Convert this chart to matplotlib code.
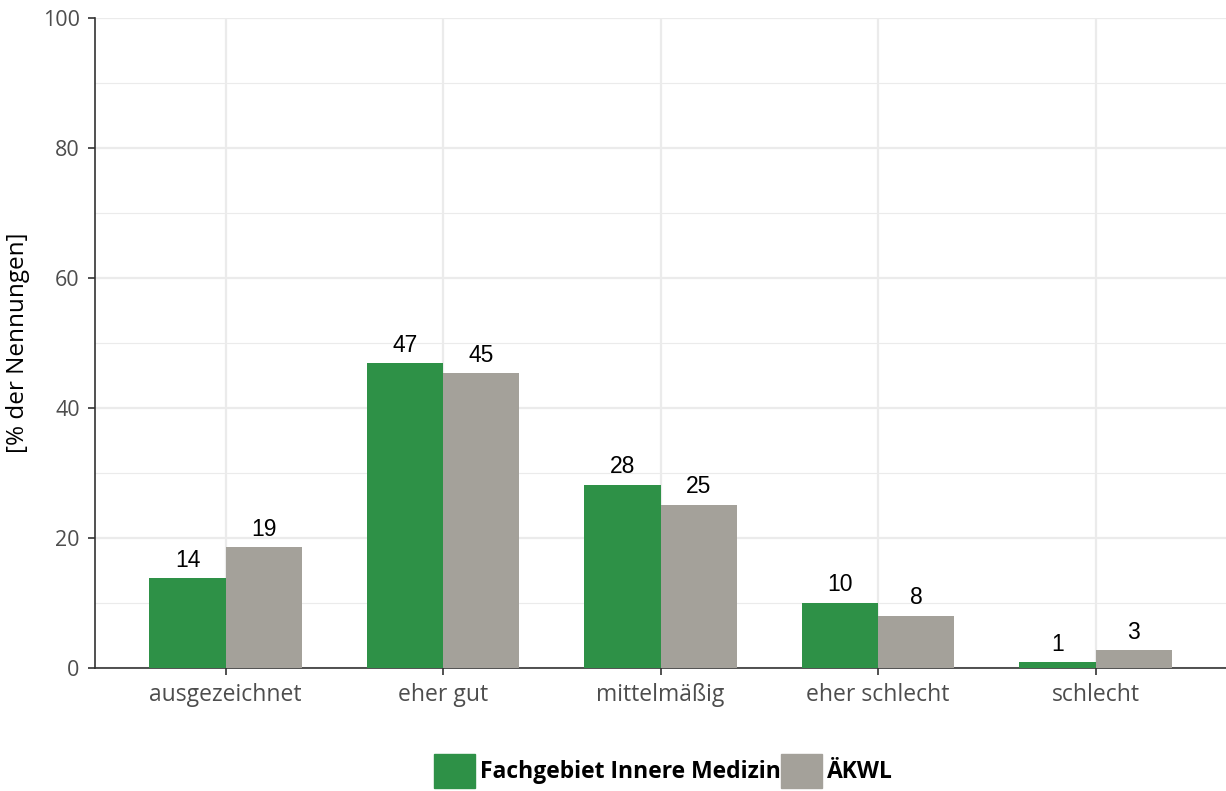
import numpy as np
import matplotlib
matplotlib.use("Agg")
import matplotlib.pyplot as plt
from matplotlib.patches import Patch

categories = ["ausgezeichnet", "eher gut", "mittelmäßig", "eher schlecht", "schlecht"]
fach = [13.8, 46.9, 28.2, 10.0, 0.9]
aekwl = [18.6, 45.3, 25.1, 8.0, 2.7]
fach_labels = ["14", "47", "28", "10", "1"]
aekwl_labels = ["19", "45", "25", "8", "3"]
series_names = ["Fachgebiet Innere Medizin", "ÄKWL"]

green = "#2e9147"
grey = "#a4a19a"

fig = plt.figure(figsize=(12.26, 7.91), dpi=100)
ax = fig.add_axes([0.0775, 0.1555, 0.9225, 0.822])

x = np.arange(len(categories))
w = 0.35
ax.bar(x - w / 2, fach, width=w, color=green, zorder=3)
ax.bar(x + w / 2, aekwl, width=w, color=grey, zorder=3)

for xi, v, s in zip(x, fach, fach_labels):
    ax.text(xi - w / 2, v + 1.0, s, ha="center", va="bottom", fontsize=16.5,
            family="Liberation Sans", color="black")
for xi, v, s in zip(x, aekwl, aekwl_labels):
    ax.text(xi + w / 2, v + 1.0, s, ha="center", va="bottom", fontsize=16.5,
            family="Liberation Sans", color="black")

ax.set_xlim(-0.6, 4.6)
ax.set_ylim(0, 100)
ax.set_yticks(np.arange(0, 101, 20))
ax.set_yticks(np.arange(10, 100, 20), minor=True)
ax.set_xticks(x)
ax.set_xticklabels(categories, family="Open Sans", fontsize=16.5, color="#4d4d4d")
for lab in ax.get_yticklabels():
    lab.set_family("Open Sans")
    lab.set_fontsize(15.5)
    lab.set_color("#4d4d4d")

ax.grid(True, which="major", color="#ebebeb", linewidth=1.6, zorder=0)
ax.grid(True, which="minor", axis="y", color="#ebebeb", linewidth=0.8, zorder=0)
ax.tick_params(which="minor", length=0)
ax.tick_params(which="major", length=5, width=1.2, color="#333333", pad=6)

for sp in ["top", "right"]:
    ax.spines[sp].set_visible(False)
for sp in ["left", "bottom"]:
    ax.spines[sp].set_color("#333333")
    ax.spines[sp].set_linewidth(1.2)

ax.set_ylabel("[% der Nennungen]", family="Open Sans", fontsize=17.5, labelpad=9)

handles = [Patch(color=green), Patch(color=grey)]
fig.legend(handles, series_names, loc="lower center", bbox_to_anchor=(0.541, -0.022),
           ncol=2, frameon=False, handlelength=1.8, handleheight=1.9,
           handletextpad=0.2, columnspacing=0.0,
           prop={"family": "Open Sans", "weight": "bold", "size": 16.5})

fig.savefig("out.png", dpi=100)
